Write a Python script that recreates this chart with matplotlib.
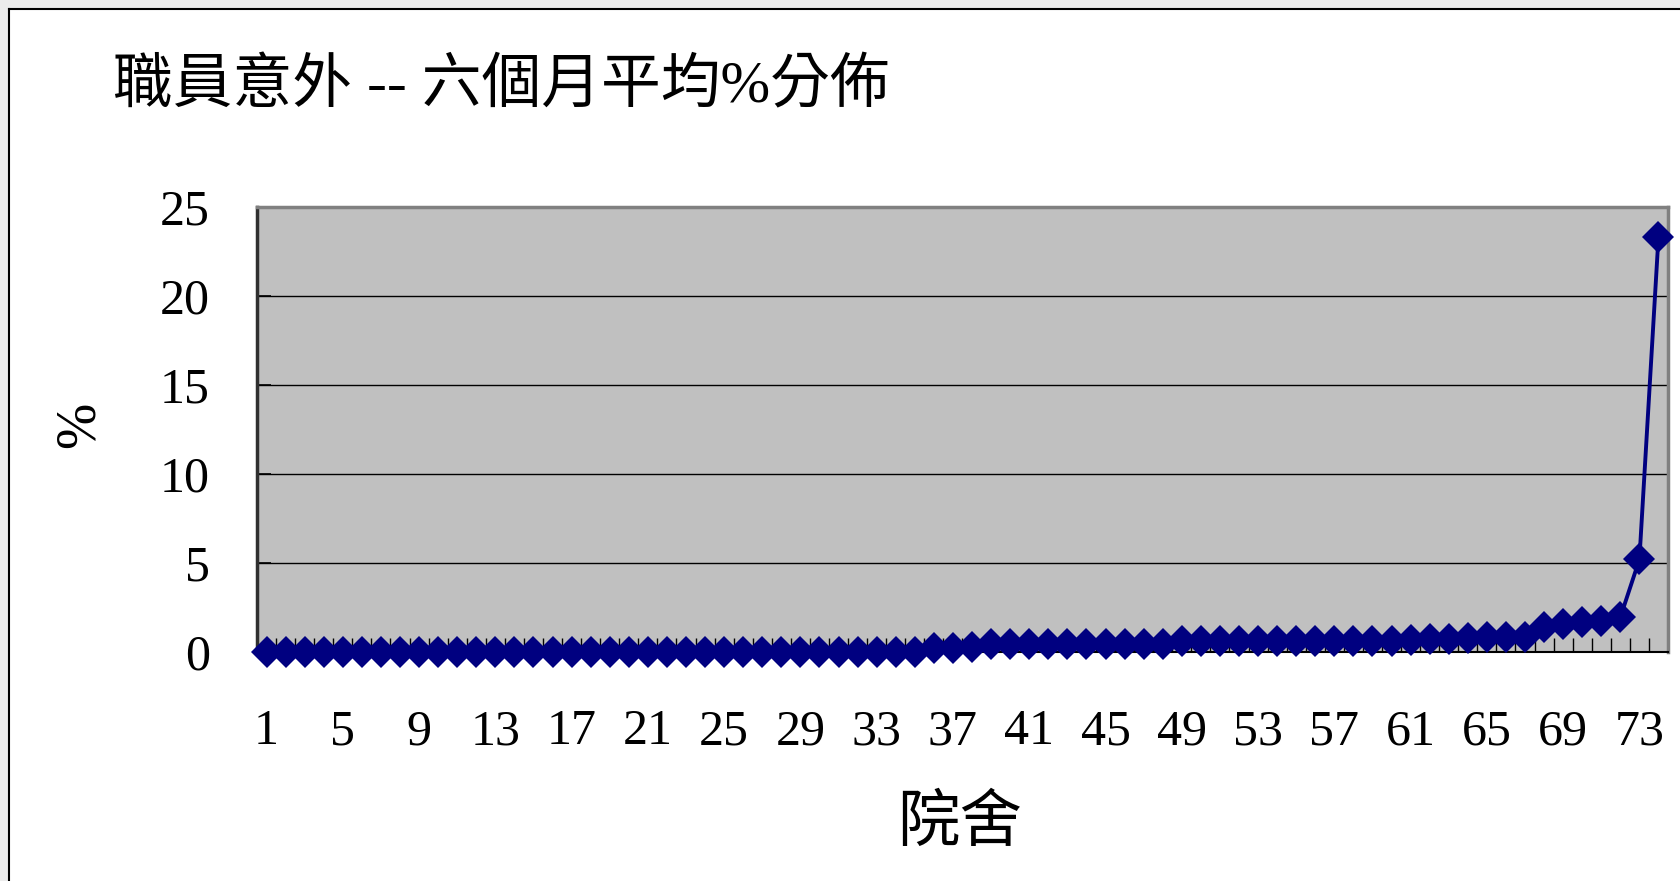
import matplotlib
matplotlib.use("Agg")
import matplotlib.pyplot as plt
from matplotlib.lines import Line2D
from matplotlib.patches import Rectangle
import numpy as np

plt.rcParams['font.family'] = ['Liberation Serif', 'Noto Sans CJK TC', 'DejaVu Sans']

# ---- data ----
categories = list(range(1, 75))
values = [0.0] * 35 + [
    0.2, 0.25, 0.3,                                   # 36-38
    0.45, 0.45, 0.45, 0.45, 0.45, 0.45, 0.45, 0.45, 0.45, 0.45,  # 39-48
    0.6, 0.6, 0.6, 0.6, 0.6, 0.6, 0.6, 0.6, 0.6, 0.6, 0.6, 0.6,  # 49-60
    0.7, 0.75, 0.75, 0.8, 0.85, 0.85, 0.85,           # 61-67
    1.4, 1.6, 1.7, 1.75, 1.95,                        # 68-72
    5.2, 23.3,                                        # 73-74
]
xtick_labels = [str(v) for v in range(1, 75, 4)]
yticks = [0, 5, 10, 15, 20, 25]
title = "職員意外 -- 六個月平均%分佈"
xlabel = "院舍"
ylabel = "%"

W, H = 1681, 881
fig = plt.figure(figsize=(W / 100, H / 100), dpi=100)
fig.patch.set_facecolor('white')

# slide border (top and left) and outer strip
fig.add_artist(Rectangle((0, 0), 8 / W, 1, transform=fig.transFigure,
                         facecolor='#ececec', edgecolor='none'))
fig.add_artist(Rectangle((0, 1 - 8 / H), 1, 8 / H, transform=fig.transFigure,
                         facecolor='#ececec', edgecolor='none'))
fig.add_artist(Line2D([9 / W, 9 / W], [0, 1 - 9 / H], transform=fig.transFigure,
                      color='black', lw=1.5))
fig.add_artist(Line2D([9 / W, 1], [1 - 9 / H, 1 - 9 / H], transform=fig.transFigure,
                      color='black', lw=1.5))

left, right, top, bottom = 257, 1668, 207, 652
ax = fig.add_axes([left / W, (H - bottom) / H, (right - left) / W, (bottom - top) / H])
ax.set_facecolor('#c0c0c0')

ax.plot(categories, values, color='#000080', lw=2.8, marker='D',
        markersize=16, markeredgewidth=0, zorder=5, clip_on=False)

ax.set_xlim(0.5, 74.5)
ax.set_ylim(0, 25)
ax.set_yticks(yticks)
ax.set_yticklabels([str(v) for v in yticks])
ax.set_xticks(list(range(1, 75, 4)))
ax.set_xticklabels(xtick_labels)
ax.set_xticks(np.arange(0.5, 75.0, 1.0), minor=True)

ax.tick_params(axis='x', which='major', length=0, pad=41, labelsize=36)
ax.tick_params(axis='x', which='minor', direction='in', length=10, width=1.0, color='black')
ax.tick_params(axis='y', which='major', direction='in', length=10, width=1.2,
               color='black', pad=34, labelsize=36)

for yv in yticks[1:-1]:
    ax.axhline(yv, color='black', lw=1.0, zorder=1)

for s in ['top', 'right']:
    ax.spines[s].set_color('#808080')
    ax.spines[s].set_linewidth(2.5)
ax.spines['left'].set_color('#303030')
ax.spines['left'].set_linewidth(2.5)
ax.spines['bottom'].set_color('black')
ax.spines['bottom'].set_linewidth(1.5)

fig.text(113 / W, 1 - 87 / H, title, fontsize=43, ha='left', va='center')
fig.text(960 / W, 1 - 826 / H, xlabel, fontsize=45, ha='center', va='center')
fig.text(80 / W, 1 - 425 / H, ylabel, fontsize=40, ha='center', va='center', rotation=90)

fig.savefig('out.png', dpi=100, facecolor='white')
